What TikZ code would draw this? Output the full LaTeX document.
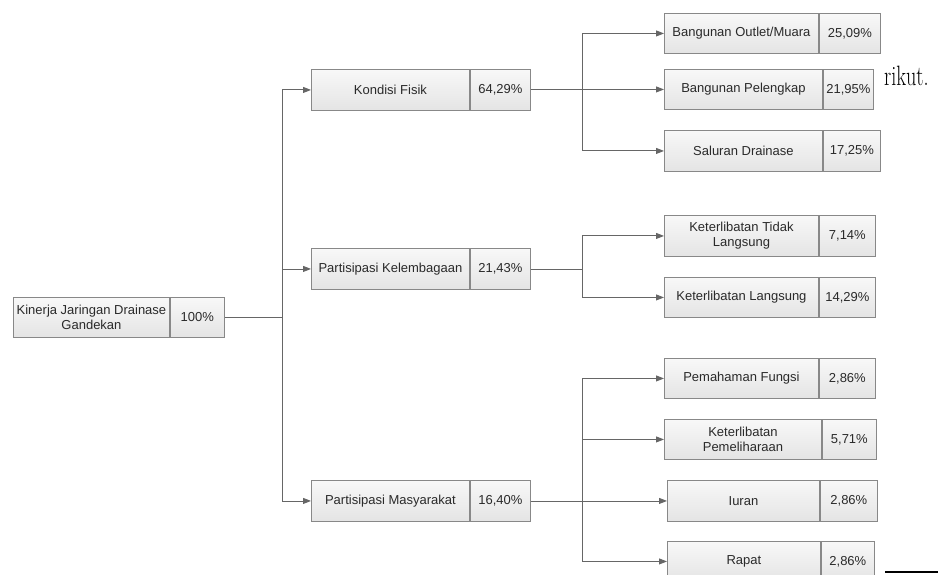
\documentclass[tikz,border=0pt]{standalone}
\usepackage{fontspec}
\setsansfont{Liberation Sans}
\usetikzlibrary{arrows.meta,positioning}

\definecolor{lineGray}{HTML}{666666}
\definecolor{cellBorder}{HTML}{888888}
\definecolor{cellTop}{HTML}{F8F8F8}
\definecolor{cellBottom}{HTML}{E4E4E4}
\definecolor{cellText}{HTML}{2A2A2A}

\tikzset{
  cell/.style={draw=cellBorder, line width=0.9pt, top color=cellTop, bottom color=cellBottom,
    inner sep=1pt, align=center, text=cellText,
    font=\sffamily\fontsize{13}{15}\selectfont},
  link/.style={draw=lineGray, line width=0.9pt},
}

\begin{document}
\begin{tikzpicture}[x=1pt, y=-1pt, >={Triangle[length=8pt,width=6pt]}]
    \useasboundingbox[fill=white] (0,0) rectangle (938,575);

% text of the page behind the chart
    \node[anchor=base west, inner sep=0pt] (pagetext) at (884,86) {\scalebox{0.72}[1]{\fontsize{28}{30}\selectfont rikut.}};
    \draw[black, line width=2pt] (885,572) -- (938,572);

% Variables: name, x, y, label width, value width, height, label, value
    \def\mkBox#1#2#3#4#5#6#7#8{
        \node[cell, minimum width=#4pt, minimum height=#6pt, anchor=north west] (#1) at (#2,#3) {#7};
        \node[cell, minimum width=#5pt, minimum height=#6pt, anchor=north west] (#1v) at (#1.north east) {#8};
    }

% root
    \mkBox{root}{13}{297}{156}{54}{40}{Kinerja Jaringan Drainase\\Gandekan}{100\%};

% second level
    \mkBox{fisik}{311}{69}{158}{60}{41}{Kondisi Fisik}{64,29\%};
    \mkBox{lembaga}{311}{248}{158}{60}{41}{Partisipasi Kelembagaan}{21,43\%};
    \mkBox{masy}{311}{480}{158}{60}{41}{Partisipasi Masyarakat}{16,40\%};

% third level
    \mkBox{outlet}{664}{13}{154}{61}{40}{Bangunan Outlet/Muara}{25,09\%};
    \mkBox{pelengkap}{664}{69}{158}{50}{40}{Bangunan Pelengkap}{21,95\%};
    \mkBox{saluran}{664}{130}{158}{57}{41}{Saluran Drainase}{17,25\%};
    \mkBox{tidak}{664}{215}{154}{56}{41}{Keterlibatan Tidak\\Langsung}{7,14\%};
    \mkBox{langsung}{664}{277}{154}{56}{40}{Keterlibatan Langsung}{14,29\%};
    \mkBox{fungsi}{664}{358}{154}{56}{40}{Pemahaman Fungsi}{2,86\%};
    \mkBox{pelihara}{664}{419}{157}{54}{40}{Keterlibatan\\Pemeliharaan}{5,71\%};
    \mkBox{iuran}{667}{480}{152}{57}{41}{Iuran}{2,86\%};
    \mkBox{rapat}{667}{541}{153}{53}{40}{Rapat}{2,86\%};

% junctions
    \coordinate (colA) at (282,0);
    \coordinate (colB) at (582,0);
    \coordinate (j0) at (rootv.east -| colA);
    \coordinate (j1) at (fisikv.east -| colB);
    \coordinate (j2) at (lembagav.east -| colB);
    \coordinate (j3) at (masyv.east -| colB);

% connectors
    \draw[link] (rootv.east) -- (j0);
    \draw[link,->] (j0) |- (fisik.west);
    \draw[link,->] (j0) |- (lembaga.west);
    \draw[link,->] (j0) |- (masy.west);

    \draw[link] (fisikv.east) -- (j1);
    \draw[link,->] (j1) |- (outlet.west);
    \draw[link,->] (j1) |- (pelengkap.west);
    \draw[link,->] (j1) |- (saluran.west);

    \draw[link] (lembagav.east) -- (j2);
    \draw[link,->] (j2) |- (tidak.west);
    \draw[link,->] (j2) |- (langsung.west);

    \draw[link] (masyv.east) -- (j3);
    \draw[link,->] (j3) |- (fungsi.west);
    \draw[link,->] (j3) |- (pelihara.west);
    \draw[link,->] (j3) |- (iuran.west);
    \draw[link,->] (j3) |- (rapat.west);

\end{tikzpicture}
\end{document}
